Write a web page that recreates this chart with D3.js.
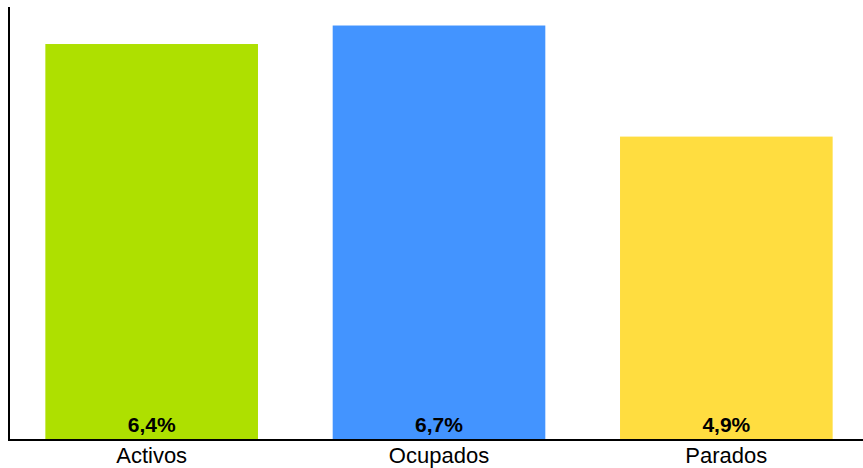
<!DOCTYPE html>
<html>
<head>
<meta charset="utf-8">
<script src="https://cdn.jsdelivr.net/npm/d3@7"></script>
<style>
  body { margin: 0; background: #fff; }
  svg { display: block; }
</style>
</head>
<body>
<svg id="chart" width="863" height="468"></svg>
<script>
// Chart data
const categories = ["Activos", "Ocupados", "Parados"];
const values = [6.4, 6.7, 4.9];
const valueLabels = ["6,4%", "6,7%", "4,9%"];
const colors = ["#aee000", "#4394ff", "#ffdd40"];

const svg = d3.select("#chart");
const width = 863, height = 468;

const x = d3.scaleBand()
    .domain(categories)
    .range([8, 870])
    .paddingInner(0.26)
    .paddingOuter(0.13);

const y = d3.scaleLinear()
    .domain([0, 7])
    .range([439, 7]);

// bars
svg.selectAll("rect.bar")
    .data(values)
    .enter().append("rect")
    .attr("class", "bar")
    .attr("x", (d, i) => x(categories[i]))
    .attr("y", d => y(d))
    .attr("width", x.bandwidth())
    .attr("height", d => y(0) - y(d))
    .attr("fill", (d, i) => colors[i]);

// value labels inside bars
svg.selectAll("text.val")
    .data(values)
    .enter().append("text")
    .attr("class", "val")
    .attr("x", (d, i) => x(categories[i]) + x.bandwidth() / 2)
    .attr("y", 432)
    .attr("text-anchor", "middle")
    .attr("font-family", "Liberation Sans, Arial, sans-serif")
    .attr("font-weight", "bold")
    .attr("font-size", "21px")
    .attr("fill", "#000")
    .text((d, i) => valueLabels[i]);

// axes lines
svg.append("line")
    .attr("x1", 9).attr("x2", 9)
    .attr("y1", y(7)).attr("y2", 441)
    .attr("stroke", "#000").attr("stroke-width", 2);

svg.append("line")
    .attr("x1", 8).attr("x2", width)
    .attr("y1", 440).attr("y2", 440)
    .attr("stroke", "#000").attr("stroke-width", 2);

// category labels
svg.selectAll("text.cat")
    .data(categories)
    .enter().append("text")
    .attr("class", "cat")
    .attr("x", d => x(d) + x.bandwidth() / 2)
    .attr("y", 463)
    .attr("text-anchor", "middle")
    .attr("font-family", "Liberation Sans, Arial, sans-serif")
    .attr("font-size", "22px")
    .attr("fill", "#000")
    .text(d => d);
</script>
</body>
</html>
